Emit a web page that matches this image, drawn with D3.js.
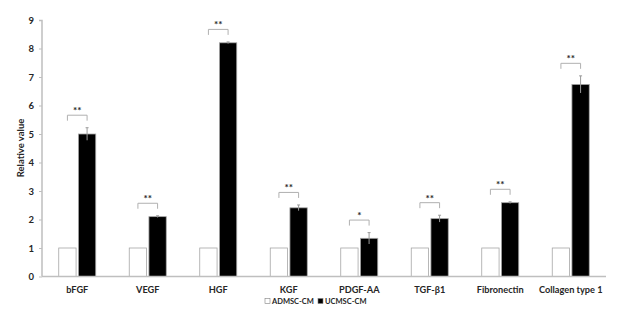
<!DOCTYPE html>
<html>
<head>
<meta charset="utf-8">
<script src="https://cdn.jsdelivr.net/npm/d3@7"></script>
<style>
  body { margin: 0; background: #fff; }
  text { font-family: Lato, "Open Sans", sans-serif; font-weight: bold; fill: #262626; }
</style>
</head>
<body>
<div class="chart"></div>
<script>
const categories = ['bFGF', 'VEGF', 'HGF', 'KGF', 'PDGF-AA', 'TGF-β1', 'Fibronectin', 'Collagen type 1'];
const series = ['ADMSC-CM', 'UCMSC-CM'];
const admscValues = [1, 1, 1, 1, 1, 1, 1, 1];
const ucmscValues = [5.0, 2.1, 8.2, 2.41, 1.34, 2.03, 2.59, 6.74];
const ucmscErrors = [0.22, 0.03, 0.03, 0.1, 0.2, 0.12, 0.03, 0.3];
const stars = ['**', '**', '**', '**', '*', '**', '**', '**'];
const yTicks = [0, 1, 2, 3, 4, 5, 6, 7, 8, 9];

const margin = {top: 20, right: 16, bottom: 49.5, left: 42};
const width = 622 - margin.left - margin.right;
const height = 326 - margin.top - margin.bottom;

let svg = d3.select('.chart')
    .append('svg')
    .attr('width', 622)
    .attr('height', 326);

const group = svg.append('g')
    .attr('transform', 'translate(' + margin.left + ',' + margin.top + ')');

const xScale = d3.scaleBand()
    .domain(categories)
    .range([0, width]);

const xInner = d3.scaleBand()
    .domain(series)
    .range([-18.5, 18.5])
    .paddingInner(0.12);

const yScale = d3.scaleLinear()
    .domain([0, 9])
    .range([height, 0]);

const data = categories.map((c, i) => ({
    category: c,
    values: [admscValues[i], ucmscValues[i]],
    err: ucmscErrors[i],
    star: stars[i]
}));

// bars
const cat = group.selectAll('.cat')
    .data(data)
    .enter()
    .append('g')
    .attr('class', 'cat')
    .attr('transform', d => 'translate(' + (xScale(d.category) + xScale.bandwidth() / 2) + ',0)');

cat.selectAll('rect')
    .data(d => d.values.map((v, j) => ({key: series[j], value: v})))
    .enter()
    .append('rect')
    .attr('x', d => xInner(d.key))
    .attr('y', d => yScale(d.value))
    .attr('width', xInner.bandwidth())
    .attr('height', d => height - yScale(d.value))
    .attr('fill', d => d.key === series[0] ? '#fff' : '#000')
    .attr('stroke', '#a6a6a6')
    .attr('stroke-width', 0.8);

// error bars
const bx = xInner(series[1]) + xInner.bandwidth() / 2;
cat.append('line')
    .attr('x1', bx).attr('x2', bx)
    .attr('y1', d => yScale(d.values[1] + d.err))
    .attr('y2', d => yScale(d.values[1] - d.err))
    .attr('stroke', '#9a9a9a')
    .attr('stroke-width', 1);

cat.append('line')
    .attr('x1', bx - 1.5).attr('x2', bx + 1.5)
    .attr('y1', d => yScale(d.values[1] + d.err))
    .attr('y2', d => yScale(d.values[1] + d.err))
    .attr('stroke', '#9a9a9a')
    .attr('stroke-width', 1);

// significance brackets
const ax = xInner(series[0]) + xInner.bandwidth() / 2;
cat.append('path')
    .attr('d', d => {
        const yb = yScale(d.values[1] + d.err + 0.44);
        return 'M' + ax + ',' + (yb + 5.5) + 'V' + yb + 'H' + bx + 'V' + (yb + 5.5);
    })
    .attr('fill', 'none')
    .attr('stroke', '#b0b0b0')
    .attr('stroke-width', 1);

cat.append('text')
    .attr('x', (ax + bx) / 2)
    .attr('y', d => yScale(d.values[1] + d.err + 0.44) - 1)
    .attr('text-anchor', 'middle')
    .attr('font-size', 10)
    .attr('fill', '#404040')
    .text(d => d.star);

// axes
const x_axis = d3.axisBottom(xScale).tickSize(0).tickPadding(10);
const y_axis = d3.axisLeft(yScale).tickValues(yTicks).tickSize(3).tickPadding(5);

const x_container = group.append('g')
    .attr('transform', 'translate(0,' + height + ')')
    .call(x_axis);

const y_container = group.append('g')
    .call(y_axis);

[x_container, y_container].forEach(a => {
    a.select('.domain').attr('stroke', '#bfbfbf').attr('stroke-width', 1.5);
    a.selectAll('.tick line').attr('stroke', '#bfbfbf');
    a.selectAll('text').attr('font-family', null).attr('fill', '#262626');
});
x_container.selectAll('text').attr('font-size', 9.2);
y_container.selectAll('text').attr('font-size', 9.5);
y_container.select('.domain').attr('d', 'M-3,0.5H0V' + height);
x_container.select('.domain').attr('d', 'M0,0H' + width);

svg.append('text')
    .attr('transform', 'translate(24,' + (margin.top + 128) + ') rotate(-90)')
    .attr('text-anchor', 'middle')
    .attr('font-size', 9.5)
    .text('Relative value');

// legend
const legend = svg.append('g')
    .attr('transform', 'translate(265,304)');

const legendX = [0, 53];
series.forEach((s, i) => {
    legend.append('rect')
        .attr('x', legendX[i])
        .attr('y', -5.5)
        .attr('width', 5)
        .attr('height', 5)
        .attr('fill', i === 0 ? '#fff' : '#000')
        .attr('stroke', '#7f7f7f')
        .attr('stroke-width', 0.6);
    legend.append('text')
        .attr('x', legendX[i] + 7)
        .attr('y', 0)
        .attr('font-size', 7.5)
        .attr('font-weight', 'normal')
        .attr('fill', '#404040')
        .text(s);
});
</script>
</body>
</html>
